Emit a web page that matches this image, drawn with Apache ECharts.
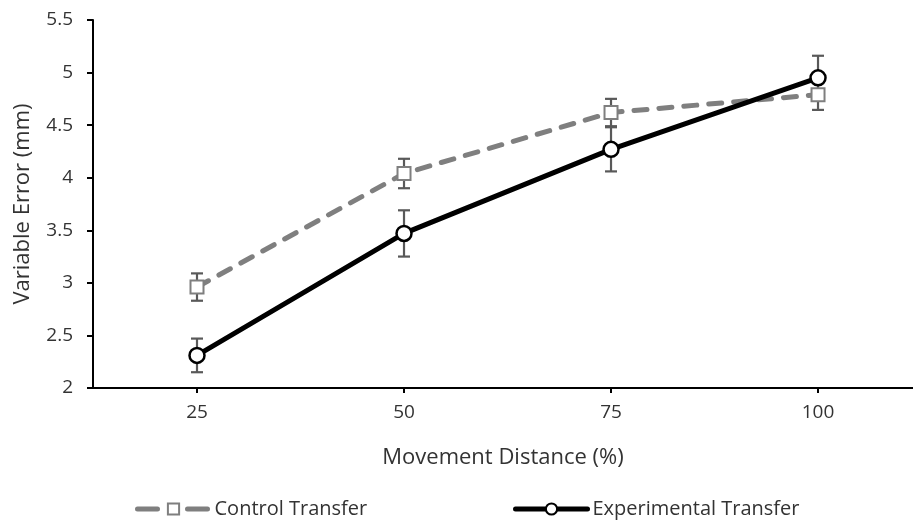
<!DOCTYPE html>
<html>
<head>
<meta charset="utf-8">
<script src="https://cdn.jsdelivr.net/npm/echarts@6/dist/echarts.min.js"></script>
<style>
  html, body { margin: 0; padding: 0; background: #fff; }
  #chart { width: 913px; height: 522px; }
</style>
</head>
<body>
<div id="chart"></div>
<script>
// Movement distance (%)
const distances = [25, 50, 75, 100];

// Variable error (mm), group means
const controlMean = [2.96, 4.04, 4.62, 4.79];
const experimentalMean = [2.31, 3.47, 4.27, 4.95];

// Half-widths of the error bars (mm)
const controlErr = [0.13, 0.14, 0.13, 0.145];
const experimentalErr = [0.16, 0.22, 0.21, 0.21];

const FONT = '"Open Sans", "Noto Sans", sans-serif';
const TEXT_COLOR = '#333333';

const pairs = (ys) => distances.map((d, i) => [d, ys[i]]);

function errorBars(means, errs) {
  return distances.map((d, i) => [d, means[i] - errs[i], means[i] + errs[i]]);
}

function renderErrorBar(params, api) {
  const x = api.value(0);
  const lo = api.coord([x, api.value(1)]);
  const hi = api.coord([x, api.value(2)]);
  const half = 6;
  const style = { stroke: '#595959', lineWidth: 2.2 };
  return {
    type: 'group',
    children: [
      { type: 'line', shape: { x1: hi[0], y1: hi[1], x2: lo[0], y2: lo[1] }, style },
      { type: 'line', shape: { x1: hi[0] - half, y1: hi[1], x2: hi[0] + half, y2: hi[1] }, style },
      { type: 'line', shape: { x1: lo[0] - half, y1: lo[1], x2: lo[0] + half, y2: lo[1] }, style }
    ]
  };
}

const legendBase = {
  top: 494,
  itemWidth: 72,
  itemHeight: 14,
  itemGap: 0,
  textStyle: { fontFamily: FONT, fontSize: 20, color: TEXT_COLOR }
};

const chart = echarts.init(document.getElementById('chart'));
chart.setOption({
  animation: false,
  backgroundColor: '#fff',
  grid: { left: 93, top: 20, right: 0, height: 368, containLabel: false },
  xAxis: {
    type: 'value',
    min: 12.44,
    max: 111.47,
    name: 'Movement Distance (%)',
    nameLocation: 'middle',
    nameGap: 59,
    nameTextStyle: { fontFamily: FONT, fontSize: 22, color: TEXT_COLOR },
    axisLine: { show: true, lineStyle: { color: '#000', width: 2 } },
    axisTick: { show: true, customValues: distances, length: 5, lineStyle: { color: '#000', width: 2 } },
    axisLabel: { customValues: distances, fontFamily: FONT, fontSize: 19, color: TEXT_COLOR, margin: 15 },
    splitLine: { show: false }
  },
  yAxis: {
    type: 'value',
    min: 2,
    max: 5.5,
    interval: 0.5,
    name: 'Variable Error (mm)',
    nameLocation: 'middle',
    nameGap: 59,
    nameRotate: 90,
    nameTextStyle: { fontFamily: FONT, fontSize: 22, color: TEXT_COLOR },
    axisLine: { show: true, lineStyle: { color: '#000', width: 2 } },
    axisTick: { show: true, length: 6, lineStyle: { color: '#000', width: 2 } },
    axisLabel: { fontFamily: FONT, fontSize: 19, color: TEXT_COLOR, margin: 20 },
    splitLine: { show: false }
  },
  legend: [
    Object.assign({}, legendBase, {
      left: 130,
      data: ['Control Transfer'],
      lineStyle: { width: 5, type: [20, 30], cap: 'round' }
    }),
    Object.assign({}, legendBase, {
      left: 508,
      data: ['Experimental Transfer'],
      lineStyle: { width: 5, cap: 'round' }
    })
  ],
  series: [
    {
      type: 'custom',
      name: 'controlErr',
      renderItem: renderErrorBar,
      data: errorBars(controlMean, controlErr),
      encode: { x: 0, y: [1, 2] },
      z: 1,
      silent: true
    },
    {
      type: 'custom',
      name: 'experimentalErr',
      renderItem: renderErrorBar,
      data: errorBars(experimentalMean, experimentalErr),
      encode: { x: 0, y: [1, 2] },
      z: 1,
      silent: true
    },
    {
      type: 'line',
      name: 'Control Transfer',
      data: pairs(controlMean),
      z: 3,
      symbol: 'rect',
      symbolSize: 13,
      lineStyle: { color: '#7f7f7f', width: 5, type: [13, 12], cap: 'round' },
      itemStyle: { color: '#fff', borderColor: '#7f7f7f', borderWidth: 2 }
    },
    {
      type: 'line',
      name: 'Experimental Transfer',
      data: pairs(experimentalMean),
      z: 4,
      symbol: 'circle',
      symbolSize: 15,
      lineStyle: { color: '#000', width: 5 },
      itemStyle: { color: '#fff', borderColor: '#000', borderWidth: 2.5 }
    }
  ]
});
</script>
</body>
</html>
